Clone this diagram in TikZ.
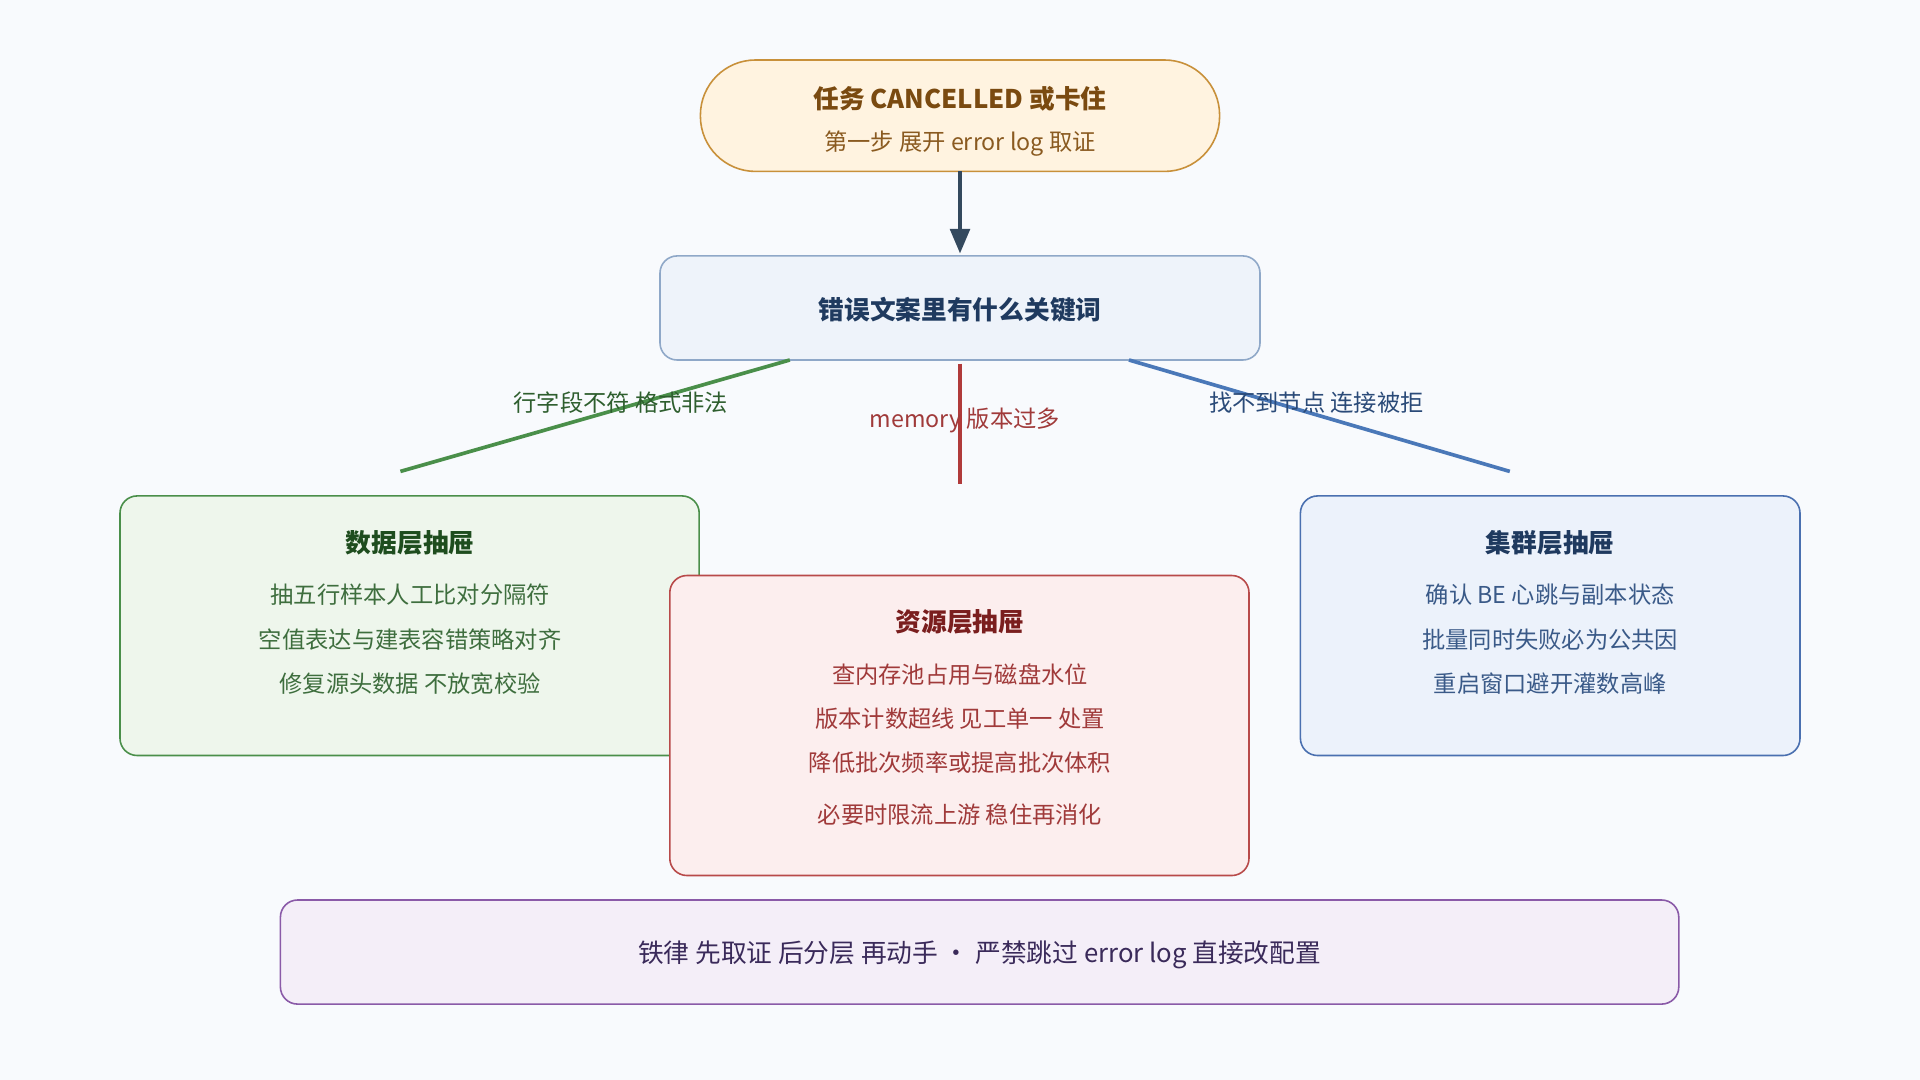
\documentclass[tikz,border=0pt]{standalone}
\usepackage{fontspec}
\setmainfont{Noto Sans CJK SC}
\usetikzlibrary{arrows.meta}
\definecolor{bg}{HTML}{F8FAFD}
\definecolor{topd}{HTML}{C8903A}\definecolor{topf}{HTML}{FFF3E0}\definecolor{topt}{HTML}{7A4A10}\definecolor{tops}{HTML}{8A5A20}
\definecolor{qd}{HTML}{8FA8C8}\definecolor{qf}{HTML}{EEF3FA}\definecolor{qt}{HTML}{1F3A5F}\definecolor{arr}{HTML}{34495E}
\definecolor{gd}{HTML}{4A8F4A}\definecolor{gf}{HTML}{EEF6EC}\definecolor{gt}{HTML}{1E4D1E}\definecolor{gs}{HTML}{3E6E3E}\definecolor{gl}{HTML}{2E5E2E}
\definecolor{rd}{HTML}{B84A4A}\definecolor{rf}{HTML}{FCEEEE}\definecolor{rt}{HTML}{7A1E1E}\definecolor{rs}{HTML}{A03A3A}\definecolor{rl}{HTML}{B03A3A}
\definecolor{bd}{HTML}{4A70B0}\definecolor{bf}{HTML}{ECF2FB}\definecolor{bs}{HTML}{3A5A88}\definecolor{bl}{HTML}{4A78B8}\definecolor{blt}{HTML}{2A4A78}
\definecolor{pd}{HTML}{8A5AA8}\definecolor{pf}{HTML}{F4EEF8}\definecolor{pt}{HTML}{3A2A5A}
\tikzset{
 box/.style={draw, rounded corners=14pt, line width=1.3pt},
 t/.style={font=\fontsize{21}{24}\selectfont\bfseries},
 s/.style={font=\fontsize{19}{22}\selectfont},
 lbl/.style={font=\fontsize{19}{22}\selectfont},
 br/.style={line width=3pt}
}
\begin{document}
\begin{tikzpicture}[x=1pt,y=-1pt]
\fill[bg] (0,0) rectangle (1568,882);
\useasboundingbox (0,0) rectangle (1568,882);
% top
\draw[box, rounded corners=45pt, draw=topd, fill=topf] (572,49) rectangle (996,140);
\node[t, text=topt] (top) at (784,81) {任务 CANCELLED 或卡住};
\node[s, text=tops] (topsub) at (784,117) {第一步 展开 error log 取证};
\coordinate (topb) at (784,140);
% question
\draw[box, draw=qd, fill=qf] (539,209) rectangle (1029,294);
\node[t, text=qt] (q) at (784,253) {错误文案里有什么关键词};
\coordinate (qtop) at (784,207);
\draw[line width=3pt, draw=arr, -{Triangle[length=20pt,width=16pt]}] (topb) -- (qtop);
% branches
\coordinate (g1) at (645,294); \coordinate (g2) at (327,385);
\coordinate (r1) at (784,297); \coordinate (r2) at (784,395);
\coordinate (b1) at (922,294); \coordinate (b2) at (1233,385);
\draw[br, draw=gd] (g1) -- (g2);
\draw[br, draw=rl] (r1) -- (r2);
\draw[br, draw=bl] (b1) -- (b2);
\node[lbl, text=gl] (glab) at (507,329) {行字段不符 格式非法};
\node[lbl, text=rs] (rlab) at (788,343) {memory 版本过多};
\node[lbl, text=blt] (blab) at (1075,329) {找不到节点 连接被拒};
% green box
\draw[box, draw=gd, fill=gf] (98,405) rectangle (571,617);
\node[t, text=gt] (gtt) at (335,443) {数据层抽屉};
\node[s, text=gs] (ga) at (335,486) {抽五行样本人工比对分隔符};
\node[s, text=gs] (gb) at (335,522) {空值表达与建表容错策略对齐};
\node[s, text=gs] (gc) at (335,558) {修复源头数据 不放宽校验};
% blue box
\draw[box, draw=bd, fill=bf] (1062,405) rectangle (1470,617);
\node[t, text=qt] (btt) at (1266,443) {集群层抽屉};
\node[s, text=bs] (ba) at (1266,486) {确认 BE 心跳与副本状态};
\node[s, text=bs] (bb) at (1266,522) {批量同时失败必为公共因};
\node[s, text=bs] (bc) at (1266,558) {重启窗口避开灌数高峰};
% red box
\draw[box, draw=rd, fill=rf] (547,470) rectangle (1020,715);
\node[t, text=rt] (rtt) at (784,508) {资源层抽屉};
\node[s, text=rs] (ra) at (784,551) {查内存池占用与磁盘水位};
\node[s, text=rs] (rb) at (784,587) {版本计数超线 见工单一 处置};
\node[s, text=rs] (rc) at (784,623) {降低批次频率或提高批次体积};
\node[s, text=rs] (rdd) at (784,665) {必要时限流上游 稳住再消化};
% bottom
\draw[box, draw=pd, fill=pf] (229,735) rectangle (1371,820);
\node[font=\fontsize{21}{24}\selectfont, text=pt] (bot) at (800,780) {铁律 先取证 后分层 再动手 · 严禁跳过 error log 直接改配置};
\end{tikzpicture}
\end{document}
